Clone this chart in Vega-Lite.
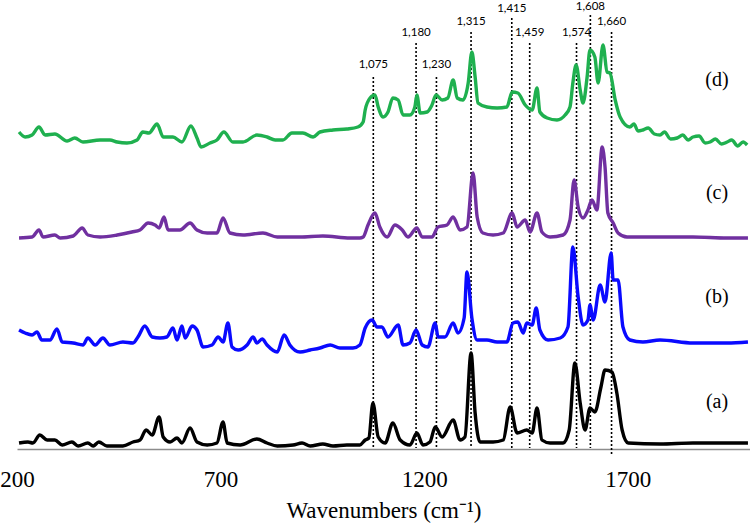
{
  "$schema": "https://vega.github.io/schema/vega-lite/v6.json",
  "width": 733,
  "height": 449,
  "autosize": {"type": "none"},
  "padding": {"left": 17, "top": 0, "right": 0, "bottom": 74},
  "background": "white",
  "config": {"view": {"stroke": null}},
  "data": {"values": [
      {"k":"line","s":"d","wn":205,"i":317},{"k":"line","s":"d","wn":220,"i":312},{"k":"line","s":"d","wn":237,"i":314},{"k":"line","s":"d","wn":254,"i":322},{"k":"line","s":"d","wn":269,"i":314},{"k":"line","s":"d","wn":293,"i":315},{"k":"line","s":"d","wn":323,"i":308},{"k":"line","s":"d","wn":342,"i":311},{"k":"line","s":"d","wn":362,"i":307},{"k":"line","s":"d","wn":404,"i":309},{"k":"line","s":"d","wn":428,"i":309},{"k":"line","s":"d","wn":446,"i":307},{"k":"line","s":"d","wn":470,"i":306},{"k":"line","s":"d","wn":495,"i":309},{"k":"line","s":"d","wn":509,"i":317},{"k":"line","s":"d","wn":524,"i":316},{"k":"line","s":"d","wn":544,"i":325},{"k":"line","s":"d","wn":559,"i":312},{"k":"line","s":"d","wn":583,"i":312},{"k":"line","s":"d","wn":605,"i":307},{"k":"line","s":"d","wn":627,"i":323},{"k":"line","s":"d","wn":642,"i":311},{"k":"line","s":"d","wn":652,"i":302},{"k":"line","s":"d","wn":674,"i":306},{"k":"line","s":"d","wn":691,"i":309},{"k":"line","s":"d","wn":708,"i":317},{"k":"line","s":"d","wn":730,"i":307},{"k":"line","s":"d","wn":755,"i":307},{"k":"line","s":"d","wn":789,"i":314},{"k":"line","s":"d","wn":814,"i":312},{"k":"line","s":"d","wn":834,"i":309},{"k":"line","s":"d","wn":853,"i":309},{"k":"line","s":"d","wn":875,"i":316},{"k":"line","s":"d","wn":902,"i":316},{"k":"line","s":"d","wn":927,"i":312},{"k":"line","s":"d","wn":944,"i":317},{"k":"line","s":"d","wn":976,"i":319},{"k":"line","s":"d","wn":1010,"i":320},{"k":"line","s":"d","wn":1037,"i":322},{"k":"line","s":"d","wn":1050,"i":327},{"k":"line","s":"d","wn":1055,"i":339},{"k":"line","s":"d","wn":1067,"i":351},{"k":"line","s":"d","wn":1079,"i":354},{"k":"line","s":"d","wn":1087,"i":342},{"k":"line","s":"d","wn":1099,"i":332},{"k":"line","s":"d","wn":1111,"i":337},{"k":"line","s":"d","wn":1123,"i":351},{"k":"line","s":"d","wn":1136,"i":349},{"k":"line","s":"d","wn":1148,"i":334},{"k":"line","s":"d","wn":1165,"i":334},{"k":"line","s":"d","wn":1177,"i":342},{"k":"line","s":"d","wn":1182,"i":354},{"k":"line","s":"d","wn":1190,"i":336},{"k":"line","s":"d","wn":1207,"i":337},{"k":"line","s":"d","wn":1219,"i":344},{"k":"line","s":"d","wn":1229,"i":354},{"k":"line","s":"d","wn":1244,"i":349},{"k":"line","s":"d","wn":1258,"i":351},{"k":"line","s":"d","wn":1271,"i":369},{"k":"line","s":"d","wn":1281,"i":351},{"k":"line","s":"d","wn":1295,"i":349},{"k":"line","s":"d","wn":1308,"i":366},{"k":"line","s":"d","wn":1317,"i":397},{"k":"line","s":"d","wn":1325,"i":372},{"k":"line","s":"d","wn":1332,"i":346},{"k":"line","s":"d","wn":1354,"i":342},{"k":"line","s":"d","wn":1379,"i":341},{"k":"line","s":"d","wn":1403,"i":342},{"k":"line","s":"d","wn":1416,"i":357},{"k":"line","s":"d","wn":1430,"i":356},{"k":"line","s":"d","wn":1448,"i":344},{"k":"line","s":"d","wn":1465,"i":339},{"k":"line","s":"d","wn":1477,"i":361},{"k":"line","s":"d","wn":1484,"i":337},{"k":"line","s":"d","wn":1502,"i":331},{"k":"line","s":"d","wn":1526,"i":329},{"k":"line","s":"d","wn":1546,"i":334},{"k":"line","s":"d","wn":1558,"i":342},{"k":"line","s":"d","wn":1565,"i":366},{"k":"line","s":"d","wn":1573,"i":384},{"k":"line","s":"d","wn":1583,"i":359},{"k":"line","s":"d","wn":1590,"i":346},{"k":"line","s":"d","wn":1600,"i":372},{"k":"line","s":"d","wn":1607,"i":399},{"k":"line","s":"d","wn":1619,"i":392},{"k":"line","s":"d","wn":1627,"i":366},{"k":"line","s":"d","wn":1639,"i":404},{"k":"line","s":"d","wn":1649,"i":377},{"k":"line","s":"d","wn":1656,"i":376},{"k":"line","s":"d","wn":1669,"i":349},{"k":"line","s":"d","wn":1681,"i":332},{"k":"line","s":"d","wn":1705,"i":322},{"k":"line","s":"d","wn":1715,"i":325},{"k":"line","s":"d","wn":1725,"i":318},{"k":"line","s":"d","wn":1737,"i":319},{"k":"line","s":"d","wn":1750,"i":321},{"k":"line","s":"d","wn":1765,"i":315},{"k":"line","s":"d","wn":1779,"i":314},{"k":"line","s":"d","wn":1790,"i":317},{"k":"line","s":"d","wn":1805,"i":310},{"k":"line","s":"d","wn":1821,"i":311},{"k":"line","s":"d","wn":1835,"i":314},{"k":"line","s":"d","wn":1848,"i":309},{"k":"line","s":"d","wn":1860,"i":312},{"k":"line","s":"d","wn":1875,"i":313},{"k":"line","s":"d","wn":1890,"i":306},{"k":"line","s":"d","wn":1902,"i":307},{"k":"line","s":"d","wn":1915,"i":310},{"k":"line","s":"d","wn":1930,"i":305},{"k":"line","s":"d","wn":1944,"i":307},{"k":"line","s":"d","wn":1955,"i":309},{"k":"line","s":"d","wn":1970,"i":303},{"k":"line","s":"d","wn":1983,"i":307},{"k":"line","s":"d","wn":1993,"i":304},
      {"k":"line","s":"c","wn":205,"i":211},{"k":"line","s":"c","wn":237,"i":212},{"k":"line","s":"c","wn":254,"i":219},{"k":"line","s":"c","wn":264,"i":212},{"k":"line","s":"c","wn":293,"i":214},{"k":"line","s":"c","wn":306,"i":211},{"k":"line","s":"c","wn":338,"i":213},{"k":"line","s":"c","wn":360,"i":221},{"k":"line","s":"c","wn":374,"i":214},{"k":"line","s":"c","wn":404,"i":212},{"k":"line","s":"c","wn":446,"i":214},{"k":"line","s":"c","wn":482,"i":217},{"k":"line","s":"c","wn":502,"i":219},{"k":"line","s":"c","wn":522,"i":226},{"k":"line","s":"c","wn":539,"i":224},{"k":"line","s":"c","wn":549,"i":221},{"k":"line","s":"c","wn":561,"i":232},{"k":"line","s":"c","wn":571,"i":219},{"k":"line","s":"c","wn":600,"i":219},{"k":"line","s":"c","wn":625,"i":226},{"k":"line","s":"c","wn":642,"i":219},{"k":"line","s":"c","wn":667,"i":216},{"k":"line","s":"c","wn":691,"i":216},{"k":"line","s":"c","wn":706,"i":231},{"k":"line","s":"c","wn":723,"i":216},{"k":"line","s":"c","wn":755,"i":214},{"k":"line","s":"c","wn":804,"i":216},{"k":"line","s":"c","wn":839,"i":212},{"k":"line","s":"c","wn":895,"i":212},{"k":"line","s":"c","wn":951,"i":213},{"k":"line","s":"c","wn":1018,"i":211},{"k":"line","s":"c","wn":1042,"i":211},{"k":"line","s":"c","wn":1050,"i":212},{"k":"line","s":"c","wn":1062,"i":224},{"k":"line","s":"c","wn":1079,"i":236},{"k":"line","s":"c","wn":1091,"i":222},{"k":"line","s":"c","wn":1109,"i":212},{"k":"line","s":"c","wn":1128,"i":224},{"k":"line","s":"c","wn":1146,"i":219},{"k":"line","s":"c","wn":1160,"i":212},{"k":"line","s":"c","wn":1182,"i":221},{"k":"line","s":"c","wn":1195,"i":212},{"k":"line","s":"c","wn":1219,"i":212},{"k":"line","s":"c","wn":1234,"i":222},{"k":"line","s":"c","wn":1256,"i":224},{"k":"line","s":"c","wn":1271,"i":232},{"k":"line","s":"c","wn":1288,"i":219},{"k":"line","s":"c","wn":1305,"i":222},{"k":"line","s":"c","wn":1320,"i":276},{"k":"line","s":"c","wn":1330,"i":232},{"k":"line","s":"c","wn":1344,"i":216},{"k":"line","s":"c","wn":1369,"i":214},{"k":"line","s":"c","wn":1394,"i":216},{"k":"line","s":"c","wn":1416,"i":236},{"k":"line","s":"c","wn":1428,"i":222},{"k":"line","s":"c","wn":1448,"i":229},{"k":"line","s":"c","wn":1460,"i":217},{"k":"line","s":"c","wn":1477,"i":236},{"k":"line","s":"c","wn":1489,"i":217},{"k":"line","s":"c","wn":1509,"i":212},{"k":"line","s":"c","wn":1541,"i":214},{"k":"line","s":"c","wn":1558,"i":229},{"k":"line","s":"c","wn":1568,"i":269},{"k":"line","s":"c","wn":1578,"i":242},{"k":"line","s":"c","wn":1590,"i":231},{"k":"line","s":"c","wn":1602,"i":239},{"k":"line","s":"c","wn":1612,"i":249},{"k":"line","s":"c","wn":1624,"i":239},{"k":"line","s":"c","wn":1637,"i":302},{"k":"line","s":"c","wn":1644,"i":282},{"k":"line","s":"c","wn":1651,"i":236},{"k":"line","s":"c","wn":1664,"i":226},{"k":"line","s":"c","wn":1676,"i":216},{"k":"line","s":"c","wn":1698,"i":212},{"k":"line","s":"c","wn":1779,"i":212},{"k":"line","s":"c","wn":1860,"i":212},{"k":"line","s":"c","wn":1944,"i":211},{"k":"line","s":"c","wn":1995,"i":211},
      {"k":"line","s":"b","wn":205,"i":119},{"k":"line","s":"b","wn":220,"i":116},{"k":"line","s":"b","wn":237,"i":114},{"k":"line","s":"b","wn":249,"i":117},{"k":"line","s":"b","wn":261,"i":109},{"k":"line","s":"b","wn":281,"i":109},{"k":"line","s":"b","wn":298,"i":120},{"k":"line","s":"b","wn":311,"i":107},{"k":"line","s":"b","wn":338,"i":106},{"k":"line","s":"b","wn":362,"i":104},{"k":"line","s":"b","wn":374,"i":111},{"k":"line","s":"b","wn":392,"i":104},{"k":"line","s":"b","wn":411,"i":111},{"k":"line","s":"b","wn":428,"i":104},{"k":"line","s":"b","wn":460,"i":107},{"k":"line","s":"b","wn":485,"i":106},{"k":"line","s":"b","wn":497,"i":112},{"k":"line","s":"b","wn":514,"i":123},{"k":"line","s":"b","wn":532,"i":112},{"k":"line","s":"b","wn":551,"i":111},{"k":"line","s":"b","wn":568,"i":112},{"k":"line","s":"b","wn":583,"i":121},{"k":"line","s":"b","wn":593,"i":109},{"k":"line","s":"b","wn":605,"i":123},{"k":"line","s":"b","wn":613,"i":111},{"k":"line","s":"b","wn":630,"i":123},{"k":"line","s":"b","wn":642,"i":119},{"k":"line","s":"b","wn":657,"i":102},{"k":"line","s":"b","wn":679,"i":104},{"k":"line","s":"b","wn":694,"i":112},{"k":"line","s":"b","wn":706,"i":107},{"k":"line","s":"b","wn":718,"i":126},{"k":"line","s":"b","wn":728,"i":102},{"k":"line","s":"b","wn":743,"i":99},{"k":"line","s":"b","wn":765,"i":104},{"k":"line","s":"b","wn":780,"i":112},{"k":"line","s":"b","wn":789,"i":106},{"k":"line","s":"b","wn":802,"i":110},{"k":"line","s":"b","wn":814,"i":104},{"k":"line","s":"b","wn":839,"i":97},{"k":"line","s":"b","wn":856,"i":114},{"k":"line","s":"b","wn":870,"i":104},{"k":"line","s":"b","wn":895,"i":97},{"k":"line","s":"b","wn":920,"i":99},{"k":"line","s":"b","wn":944,"i":101},{"k":"line","s":"b","wn":969,"i":104},{"k":"line","s":"b","wn":993,"i":101},{"k":"line","s":"b","wn":1025,"i":101},{"k":"line","s":"b","wn":1042,"i":104},{"k":"line","s":"b","wn":1055,"i":121},{"k":"line","s":"b","wn":1072,"i":129},{"k":"line","s":"b","wn":1084,"i":122},{"k":"line","s":"b","wn":1096,"i":122},{"k":"line","s":"b","wn":1111,"i":112},{"k":"line","s":"b","wn":1136,"i":124},{"k":"line","s":"b","wn":1148,"i":104},{"k":"line","s":"b","wn":1165,"i":106},{"k":"line","s":"b","wn":1180,"i":119},{"k":"line","s":"b","wn":1195,"i":104},{"k":"line","s":"b","wn":1209,"i":102},{"k":"line","s":"b","wn":1227,"i":126},{"k":"line","s":"b","wn":1234,"i":112},{"k":"line","s":"b","wn":1251,"i":112},{"k":"line","s":"b","wn":1271,"i":126},{"k":"line","s":"b","wn":1283,"i":116},{"k":"line","s":"b","wn":1298,"i":131},{"k":"line","s":"b","wn":1305,"i":177},{"k":"line","s":"b","wn":1317,"i":131},{"k":"line","s":"b","wn":1330,"i":109},{"k":"line","s":"b","wn":1354,"i":109},{"k":"line","s":"b","wn":1379,"i":107},{"k":"line","s":"b","wn":1403,"i":107},{"k":"line","s":"b","wn":1418,"i":126},{"k":"line","s":"b","wn":1430,"i":127},{"k":"line","s":"b","wn":1443,"i":116},{"k":"line","s":"b","wn":1452,"i":126},{"k":"line","s":"b","wn":1465,"i":124},{"k":"line","s":"b","wn":1475,"i":141},{"k":"line","s":"b","wn":1484,"i":119},{"k":"line","s":"b","wn":1504,"i":109},{"k":"line","s":"b","wn":1534,"i":111},{"k":"line","s":"b","wn":1553,"i":122},{"k":"line","s":"b","wn":1565,"i":202},{"k":"line","s":"b","wn":1578,"i":152},{"k":"line","s":"b","wn":1590,"i":124},{"k":"line","s":"b","wn":1602,"i":129},{"k":"line","s":"b","wn":1607,"i":144},{"k":"line","s":"b","wn":1615,"i":129},{"k":"line","s":"b","wn":1632,"i":164},{"k":"line","s":"b","wn":1644,"i":147},{"k":"line","s":"b","wn":1659,"i":196},{"k":"line","s":"b","wn":1664,"i":169},{"k":"line","s":"b","wn":1676,"i":169},{"k":"line","s":"b","wn":1688,"i":122},{"k":"line","s":"b","wn":1705,"i":109},{"k":"line","s":"b","wn":1737,"i":107},{"k":"line","s":"b","wn":1779,"i":109},{"k":"line","s":"b","wn":1860,"i":106},{"k":"line","s":"b","wn":1944,"i":106},{"k":"line","s":"b","wn":1995,"i":107},
      {"k":"line","s":"a","wn":205,"i":6},{"k":"line","s":"a","wn":227,"i":7},{"k":"line","s":"a","wn":239,"i":6},{"k":"line","s":"a","wn":256,"i":14},{"k":"line","s":"a","wn":274,"i":9},{"k":"line","s":"a","wn":293,"i":9},{"k":"line","s":"a","wn":311,"i":4},{"k":"line","s":"a","wn":335,"i":7},{"k":"line","s":"a","wn":350,"i":3},{"k":"line","s":"a","wn":374,"i":6},{"k":"line","s":"a","wn":387,"i":3},{"k":"line","s":"a","wn":401,"i":7},{"k":"line","s":"a","wn":421,"i":3},{"k":"line","s":"a","wn":460,"i":3},{"k":"line","s":"a","wn":485,"i":7},{"k":"line","s":"a","wn":502,"i":9},{"k":"line","s":"a","wn":517,"i":19},{"k":"line","s":"a","wn":532,"i":14},{"k":"line","s":"a","wn":549,"i":32},{"k":"line","s":"a","wn":559,"i":12},{"k":"line","s":"a","wn":576,"i":7},{"k":"line","s":"a","wn":593,"i":11},{"k":"line","s":"a","wn":605,"i":6},{"k":"line","s":"a","wn":625,"i":21},{"k":"line","s":"a","wn":642,"i":7},{"k":"line","s":"a","wn":667,"i":4},{"k":"line","s":"a","wn":691,"i":6},{"k":"line","s":"a","wn":706,"i":27},{"k":"line","s":"a","wn":716,"i":6},{"k":"line","s":"a","wn":748,"i":4},{"k":"line","s":"a","wn":789,"i":10},{"k":"line","s":"a","wn":814,"i":6},{"k":"line","s":"a","wn":839,"i":3},{"k":"line","s":"a","wn":878,"i":4},{"k":"line","s":"a","wn":900,"i":6},{"k":"line","s":"a","wn":920,"i":3},{"k":"line","s":"a","wn":951,"i":5},{"k":"line","s":"a","wn":976,"i":3},{"k":"line","s":"a","wn":1010,"i":4},{"k":"line","s":"a","wn":1042,"i":4},{"k":"line","s":"a","wn":1055,"i":9},{"k":"line","s":"a","wn":1064,"i":11},{"k":"line","s":"a","wn":1074,"i":46},{"k":"line","s":"a","wn":1087,"i":12},{"k":"line","s":"a","wn":1104,"i":6},{"k":"line","s":"a","wn":1123,"i":26},{"k":"line","s":"a","wn":1141,"i":9},{"k":"line","s":"a","wn":1165,"i":4},{"k":"line","s":"a","wn":1182,"i":16},{"k":"line","s":"a","wn":1197,"i":4},{"k":"line","s":"a","wn":1214,"i":7},{"k":"line","s":"a","wn":1227,"i":22},{"k":"line","s":"a","wn":1244,"i":12},{"k":"line","s":"a","wn":1271,"i":29},{"k":"line","s":"a","wn":1288,"i":9},{"k":"line","s":"a","wn":1300,"i":12},{"k":"line","s":"a","wn":1315,"i":96},{"k":"line","s":"a","wn":1325,"i":36},{"k":"line","s":"a","wn":1337,"i":7},{"k":"line","s":"a","wn":1369,"i":7},{"k":"line","s":"a","wn":1394,"i":9},{"k":"line","s":"a","wn":1411,"i":42},{"k":"line","s":"a","wn":1428,"i":16},{"k":"line","s":"a","wn":1452,"i":19},{"k":"line","s":"a","wn":1465,"i":16},{"k":"line","s":"a","wn":1477,"i":41},{"k":"line","s":"a","wn":1489,"i":9},{"k":"line","s":"a","wn":1509,"i":6},{"k":"line","s":"a","wn":1541,"i":6},{"k":"line","s":"a","wn":1556,"i":19},{"k":"line","s":"a","wn":1570,"i":86},{"k":"line","s":"a","wn":1583,"i":46},{"k":"line","s":"a","wn":1595,"i":19},{"k":"line","s":"a","wn":1607,"i":41},{"k":"line","s":"a","wn":1619,"i":37},{"k":"line","s":"a","wn":1634,"i":62},{"k":"line","s":"a","wn":1644,"i":79},{"k":"line","s":"a","wn":1661,"i":77},{"k":"line","s":"a","wn":1673,"i":56},{"k":"line","s":"a","wn":1686,"i":19},{"k":"line","s":"a","wn":1701,"i":6},{"k":"line","s":"a","wn":1779,"i":5},{"k":"line","s":"a","wn":1860,"i":6},{"k":"line","s":"a","wn":1944,"i":6},{"k":"line","s":"a","wn":1995,"i":6},
      {"k":"peak","wn":1075,"label":"1,075","top":372,"bottom":1,"ly":384},
      {"k":"peak","wn":1180,"label":"1,180","top":406,"bottom":1,"ly":416},
      {"k":"peak","wn":1230,"label":"1,230","top":372,"bottom":1,"ly":384},
      {"k":"peak","wn":1315,"label":"1,315","top":417,"bottom":1,"ly":427},
      {"k":"peak","wn":1415,"label":"1,415","top":431,"bottom":1,"ly":440},
      {"k":"peak","wn":1459,"label":"1,459","top":406,"bottom":1,"ly":416},
      {"k":"peak","wn":1574,"label":"1,574","top":406,"bottom":1,"ly":416},
      {"k":"peak","wn":1608,"label":"1,608","top":434,"bottom":1,"ly":442},
      {"k":"peak","wn":1660,"label":"1,660","top":417,"bottom":-7,"ly":427},
      {"k":"name","wn":1919,"ny":369,"t":"(d)"},
      {"k":"name","wn":1919,"ny":256,"t":"(c)"},
      {"k":"name","wn":1919,"ny":152,"t":"(b)"},
      {"k":"name","wn":1919,"ny":47,"t":"(a)"}
  ]},
  "layer": [
    {
      "transform": [{"filter": "datum.k === 'peak'"}],
      "mark": {"type": "rule", "color": "black", "strokeWidth": 1.6, "strokeDash": [2, 2]},
      "encoding": {
        "x": {"field": "wn", "type": "quantitative"},
        "y": {"field": "top", "type": "quantitative", "axis": null},
        "y2": {"field": "bottom"}
      }
    },
    {
      "transform": [{"filter": "datum.k === 'line'"}],
      "mark": {"type": "line", "strokeWidth": 3.4, "strokeJoin": "round", "interpolate": "monotone"},
      "encoding": {
        "x": {
          "field": "wn", "type": "quantitative",
          "scale": {"domain": [200, 2000], "nice": false, "zero": false},
          "axis": {
            "values": [200, 700, 1200, 1700], "format": "d", "grid": false, "ticks": false,
            "domainColor": "#8c8c8c", "domainWidth": 1.5,
            "labelFont": "Liberation Serif", "labelFontSize": 23, "labelColor": "black", "labelPadding": 19,
            "labelFlush": false,
            "title": "Wavenumbers (cm⁻¹)", "titleFont": "Liberation Serif", "titleFontSize": 23,
            "titleFontWeight": "normal", "titleColor": "black", "titlePadding": 8
          }
        },
        "y": {
          "field": "i", "type": "quantitative",
          "scale": {"domain": [0, 449], "nice": false, "zero": false},
          "axis": null
        },
        "color": {
          "field": "s", "type": "nominal",
          "scale": {"domain": ["a", "b", "c", "d"], "range": ["#000000", "#0a0aff", "#7030a0", "#1fb04f"]},
          "legend": null
        }
      }
    },
    {
      "transform": [{"filter": "datum.k === 'peak'"}],
      "mark": {"type": "text", "font": "Lato", "fontSize": 11.5, "color": "black", "baseline": "middle", "align": "center"},
      "encoding": {
        "x": {"field": "wn", "type": "quantitative"},
        "y": {"field": "ly", "type": "quantitative", "axis": null},
        "text": {"field": "label"}
      }
    },
    {
      "transform": [{"filter": "datum.k === 'name'"}],
      "mark": {"type": "text", "font": "Liberation Serif", "fontSize": 20, "color": "black", "baseline": "middle", "align": "center"},
      "encoding": {
        "x": {"field": "wn", "type": "quantitative"},
        "y": {"field": "ny", "type": "quantitative", "axis": null},
        "text": {"field": "t"}
      }
    }
  ]
}
